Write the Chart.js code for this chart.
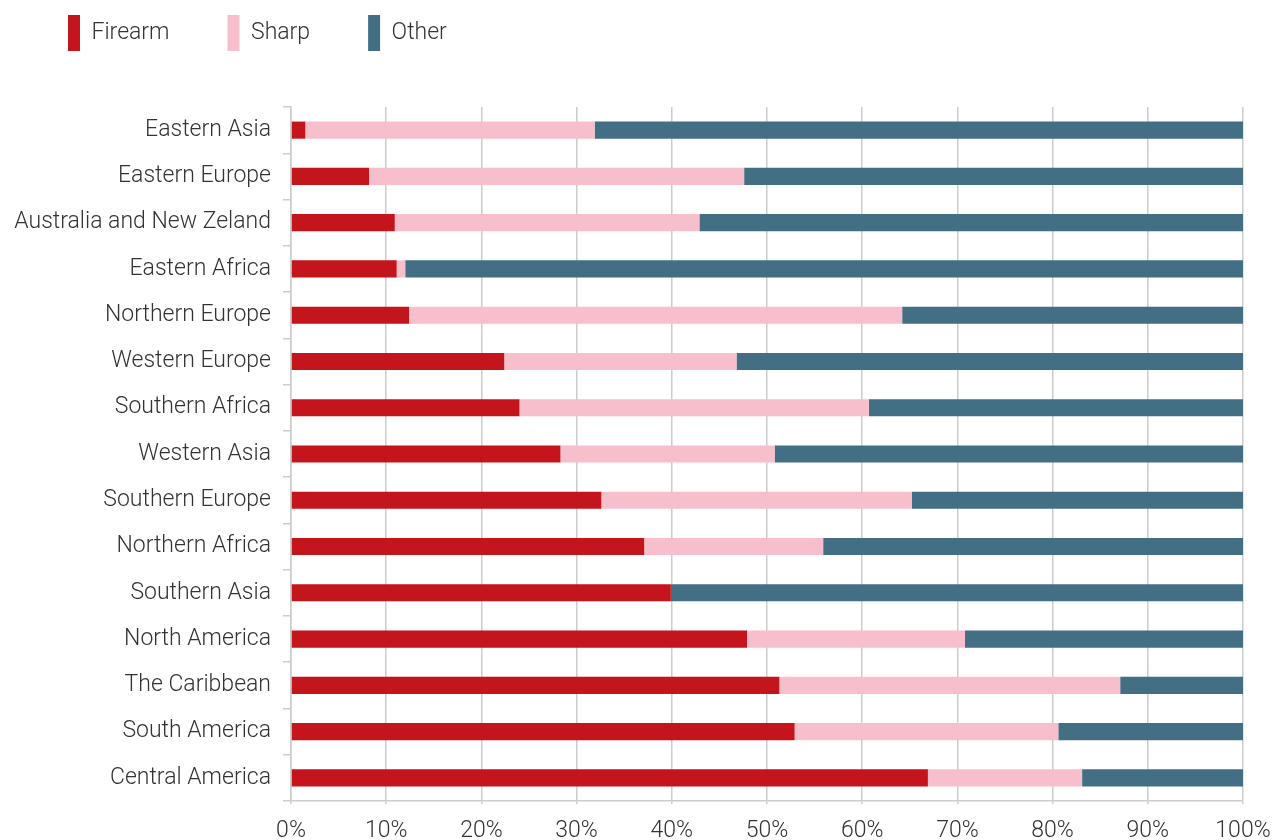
<!DOCTYPE html>
<html>
<head>
<meta charset="utf-8">
<script src="https://cdn.jsdelivr.net/npm/chart.js@4"></script>
<style>
  html, body { margin: 0; padding: 0; background: #fff; }
  #wrap { width: 1277px; height: 840px; }
</style>
</head>
<body>
<div id="wrap"><canvas id="chart" width="1277" height="840"></canvas></div>
<script>
// regions, top to bottom
const regions = [
  "Eastern Asia", "Eastern Europe", "Australia and New Zeland", "Eastern Africa",
  "Northern Europe", "Western Europe", "Southern Africa", "Western Asia",
  "Southern Europe", "Northern Africa", "Southern Asia", "North America",
  "The Caribbean", "South America", "Central America"
];

// share of homicides by mechanism (%)
const firearm = [1.5, 8.2, 10.9, 11.1, 12.4, 22.4, 24.0, 28.3, 32.6, 37.1, 39.9, 47.9, 51.3, 52.9, 66.9];
const sharp   = [30.4, 39.4, 32.0, 0.9, 51.8, 24.4, 36.7, 22.5, 32.6, 18.8, 0, 22.9, 35.8, 27.7, 16.2];
const other   = [68.1, 52.4, 57.1, 88.0, 35.8, 53.2, 39.3, 49.2, 34.8, 44.1, 60.1, 29.2, 12.9, 19.4, 16.9];

const xTicks = [0, 10, 20, 30, 40, 50, 60, 70, 80, 90, 100];

const FONT = "'Roboto', 'Liberation Sans', sans-serif";
const TEXT = "#333333";
const GRID = "#cccccc";

// legend padding is also used vertically, so lift the drawn legend back up
const legendLift = {
  id: "legendLift",
  beforeInit(chart) {
    const draw = chart.legend.draw;
    chart.legend.draw = function () {
      const ctx = this.ctx;
      ctx.save();
      ctx.translate(0, -46);
      draw.apply(this, arguments);
      ctx.restore();
    };
  }
};

new Chart(document.getElementById("chart"), {
  type: "bar",
  data: {
    labels: regions,
    datasets: [
      { label: "Firearm", data: firearm, backgroundColor: "#c4141c" },
      { label: "Sharp", data: sharp, backgroundColor: "#f7bfcc" },
      { label: "Other", data: other, backgroundColor: "#426f84" }
    ]
  },
  options: {
    responsive: false,
    animation: false,
    indexAxis: "y",
    datasets: { bar: { barPercentage: 0.37, categoryPercentage: 1 } },
    layout: { padding: { left: 10, right: 34, top: 3, bottom: 0 } },
    plugins: {
      tooltip: { enabled: false },
      legend: {
        align: "start",
        labels: {
          boxWidth: 12,
          boxHeight: 36,
          padding: 58,
          color: TEXT,
          font: { family: FONT, size: 23, weight: 300 }
        }
      }
    },
    scales: {
      x: {
        stacked: true,
        min: 0,
        max: 100,
        afterBuildTicks(scale) { scale.ticks = xTicks.map(v => ({ value: v })); },
        afterFit(scale) {
          scale.height = 39;
          scale.paddingLeft = 0;
          scale.paddingRight = 0;
        },
        border: { color: GRID, width: 1.5 },
        grid: { color: GRID, lineWidth: 1.5, tickLength: 3 },
        ticks: {
          color: TEXT,
          padding: 13,
          font: { family: FONT, size: 23, weight: 300 },
          callback: v => v + "%"
        }
      },
      y: {
        stacked: true,
        afterFit(scale) { scale.width = 281; },
        border: { color: GRID, width: 1.5 },
        grid: { color: GRID, lineWidth: 1.5, drawOnChartArea: false, tickLength: 8, offset: true },
        ticks: {
          color: TEXT,
          padding: 12,
          font: { family: FONT, size: 23, weight: 300 }
        }
      }
    }
  },
  plugins: [legendLift]
});
</script>
</body>
</html>
